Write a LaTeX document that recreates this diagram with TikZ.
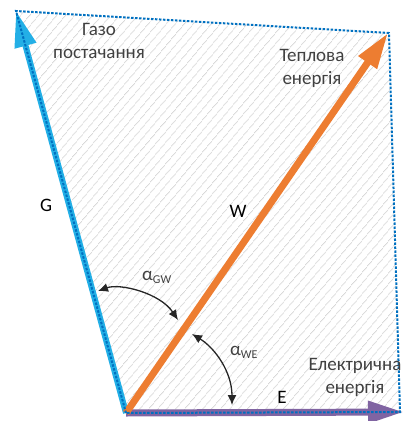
\documentclass[tikz,border=0pt]{standalone}
\usepackage{fontspec}
\setmainfont{Carlito}
\usetikzlibrary{arrows.meta,patterns.meta}
\definecolor{gcol}{RGB}{35,175,230}
\definecolor{wcol}{RGB}{237,125,49}
\definecolor{ecol}{RGB}{128,100,162}
\definecolor{dotcol}{RGB}{0,112,192}
\definecolor{txt}{RGB}{64,64,64}
\definecolor{arccol}{RGB}{38,38,38}
\begin{document}
\begin{tikzpicture}[x=1pt,y=-1pt,
  vec/.style={line width=#1, -{Triangle[length=36pt,width=21pt]}},
  lab/.style={font=\fontsize{19pt}{23pt}\selectfont, text=txt, align=center, inner sep=0pt},
  letter/.style={font=\fontsize{19pt}{23pt}\selectfont, text=black, inner sep=0pt},
  anglearc/.style={arccol, line width=1.3pt, {Latex[length=10pt,width=9pt]}-{Latex[length=10pt,width=9pt]}},
  outline/.style={dotcol, line width=2pt, dash pattern=on 2.5pt off 1.5pt},
  hatch/.style={pattern={Lines[angle=50,distance=6.5pt,line width=0.7pt]}, pattern color=black!24},
]
\useasboundingbox (0,0) rectangle (405,421);
\coordinate (O) at (126,413);
\coordinate (Gt) at (16,11);
\coordinate (Wt) at (388,33);
\coordinate (Et) at (404,412);
\coordinate (Wc) at (389,33);
\coordinate (Ec) at (400,412);
% hatched area
\fill[hatch] (O) -- (Gt) -- (Wc) -- (Ec) -- cycle;
% vectors
\draw[vec=6pt, gcol] (O) -- (Gt);
\draw[vec=7pt, ecol] (O) -- (Et);
\draw[vec=7pt, wcol] (O) -- (Wt);
% dotted outline
\draw[outline] (O) -- (Gt) -- (Wc) -- (Ec) -- cycle;
% angle arcs
\coordinate (a1) at (98,291);
\coordinate (a2) at (178,320);
\coordinate (b1) at (192,334);
\coordinate (b2) at (232,405);
\draw[anglearc] (a1) .. controls (120,283) and (160,293) .. (a2);
\draw[anglearc] (b1) .. controls (215,348) and (232,372) .. (b2);
% labels
\node[lab] (gaz) at (99,41) {Газо\\постачання};
\node[lab] (tep) at (312,68) {Теплова\\енергія};
\node[lab] (ele) at (355,377) {Електрична\\енергія};
\node[letter] (lg) at (46,205) {G};
\node[letter] (lw) at (238,211) {W};
\node[letter] (le) at (282,397) {E};
\node[lab, anchor=base west] (agw) at (142,280) {α\raisebox{-3pt}{\fontsize{12pt}{12pt}\selectfont GW}};
\node[lab, anchor=base west] (awe) at (230,355) {α\raisebox{-3pt}{\fontsize{12pt}{12pt}\selectfont WE}};
\end{tikzpicture}
\end{document}
